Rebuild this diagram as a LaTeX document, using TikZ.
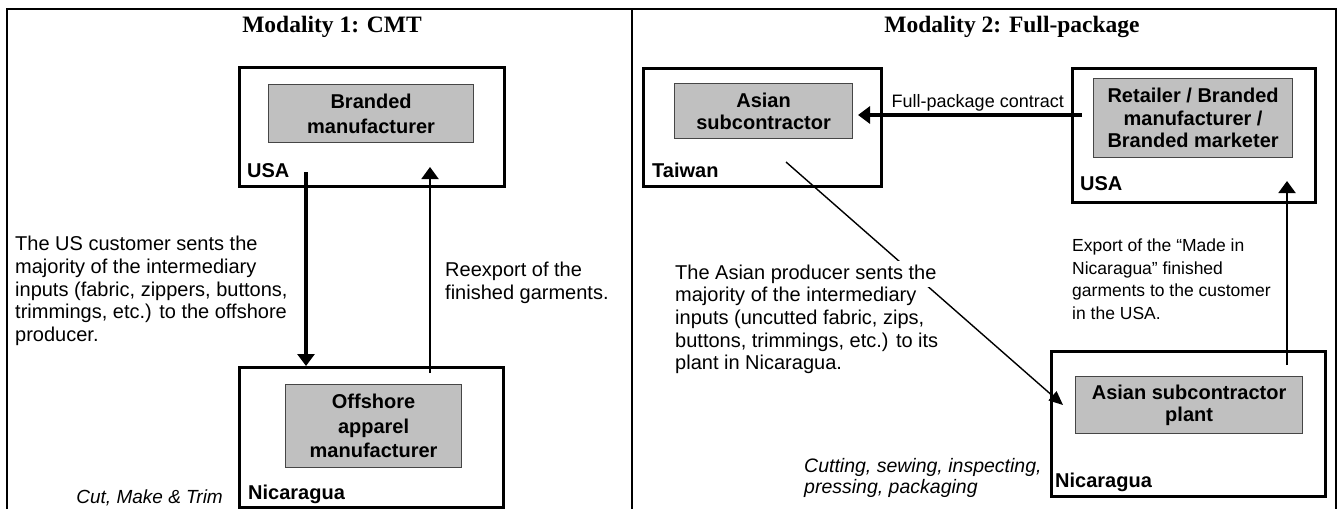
\documentclass[tikz,border=0pt]{standalone}
\usepackage{fontspec}
\setmainfont{Liberation Serif}
\newfontfamily\arialf{Liberation Sans}
\usetikzlibrary{arrows.meta}
\definecolor{boxgray}{RGB}{192,192,192}
\definecolor{edgegray}{RGB}{70,70,70}
\begin{document}
\begin{tikzpicture}[x=1pt,y=-1pt,
  frame/.style={line width=2pt, line join=miter},
  region/.style={draw, line width=2.6pt, anchor=north west, inner sep=0pt},
  actorL/.style={draw=edgegray, fill=boxgray, line width=1.2pt, anchor=north west, inner sep=0pt, align=center, font=\arialf\bfseries\fontsize{20}{24.5}\selectfont},
  actorR/.style={draw=edgegray, fill=boxgray, line width=1.2pt, anchor=north west, inner sep=0pt, align=center, font=\arialf\bfseries\fontsize{20}{22.5}\selectfont},
  place/.style={inner sep=0pt, font=\arialf\bfseries\fontsize{20}{24}\selectfont},
  body/.style={inner sep=0pt, align=left, font=\arialf\fontsize{20}{22.7}\selectfont},
  note/.style={inner sep=0pt, align=left, font=\arialf\itshape\fontsize{19.5}{21.5}\selectfont},
  heading/.style={inner sep=0pt, font=\bfseries\fontsize{23.5}{27}\selectfont},
  bigarrow/.style={line width=3.2pt, -{Triangle[length=12pt,width=17pt]}},
  midarrow/.style={line width=2pt, -{Triangle[length=12pt,width=17pt]}},
  thinarrow/.style={line width=1.4pt, -{Triangle[length=14pt,width=12pt]}}
]
\useasboundingbox (0,0) rectangle (1343,509);
% frame
\draw[frame] (7,509) -- (7,9) -- (1336,9) -- (1336,509);
\draw[frame] (632,9) -- (632,509);
\node[heading] (h1) at (332,27) {Modality 1: CMT};
\node[heading] (h2) at (1012,27) {Modality 2: Full-package};

% ---------- left panel
\node[region, minimum width=265pt, minimum height=119pt] (usaL) at (238,66) {};
\node[actorL, minimum width=205pt, minimum height=58pt] (brandL) at (268,84) {Branded\\manufacturer};
\node[place, anchor=base west] (usaLlab) at (247,177) {USA};
\node[region, minimum width=264pt, minimum height=140pt] (nicL) at (238,366) {};
\node[actorL, minimum width=176pt, minimum height=83pt] (offL) at (285,384) {Offshore\\apparel\\manufacturer};
\node[place, anchor=base west] (nicLlab) at (248,499) {Nicaragua};
\node[note, anchor=base east, font=\arialf\itshape\fontsize{19}{21}\selectfont] (cmt) at (223,503) {Cut, Make \& Trim};

\coordinate (aL1) at (306,172);
\draw[bigarrow] (aL1) -- (aL1 |- nicL.north);
\coordinate (bL1) at (430,373);
\coordinate (bL2) at (430,167);
\draw[midarrow] (bL1) -- (bL2);

\node[body, anchor=north west] (tL) at (15,236) {The US customer sents the\\majority of the intermediary\\inputs (fabric, zippers, buttons,\\trimmings, etc.) to the offshore\\producer.};
\node[body, anchor=north west] (reL) at (445,262) {Reexport of the\\finished garments.};

% ---------- right panel
\node[region, minimum width=238pt, minimum height=118pt] (twR) at (642,67) {};
\node[actorR, minimum width=178pt, minimum height=55pt] (asR) at (674,83) {Asian\\subcontractor};
\node[place, anchor=base west] (twlab) at (652,177) {Taiwan};
\node[region, minimum width=243pt, minimum height=134pt] (usR) at (1071,67) {};
\node[actorR, minimum width=199pt, minimum height=79pt] (retR) at (1093,78) {Retailer / Branded\\manufacturer /\\Branded marketer};
\node[place, anchor=base west] (usRlab) at (1080,190) {USA};
\node[region, minimum width=274pt, minimum height=145pt] (nicR) at (1050,350) {};
\node[actorR, minimum width=227pt, minimum height=57pt] (plR) at (1075,376) {Asian subcontractor\\plant};
\node[place, anchor=base west] (nicRlab) at (1055,487) {Nicaragua};

\coordinate (c1) at (1082,115);
\coordinate (c2) at (858,115);
\draw[bigarrow] (c1) -- (c2);
\node[body, anchor=base east, font=\arialf\fontsize{18}{20}\selectfont] (clab) at (1064,107) {Full-package contract};

\coordinate (d1) at (786,162);
\coordinate (d2) at (1063,405);
\draw[thinarrow] (d1) -- (d2);

\coordinate (e1) at (1287,365);
\coordinate (e2) at (1287,181);
\draw[midarrow] (e1) -- (e2);

\node[body, anchor=base west, fill=white, inner ysep=4pt] (tR1) at (675,279) {The Asian producer sents the};
\node[body, anchor=north west] (tR2) at (675,287) {majority of the intermediary\\inputs (uncutted fabric, zips,\\buttons, trimmings, etc.) to its\\plant in Nicaragua.};
\node[body, anchor=north west, font=\arialf\fontsize{17.5}{22.5}\selectfont] (exR) at (1072,239) {Export of the “Made in\\Nicaragua” finished\\garments to the customer\\in the USA.};
\node[note, anchor=north west] (cutR) at (804,458) {Cutting, sewing, inspecting,\\pressing, packaging};
\end{tikzpicture}
\end{document}
